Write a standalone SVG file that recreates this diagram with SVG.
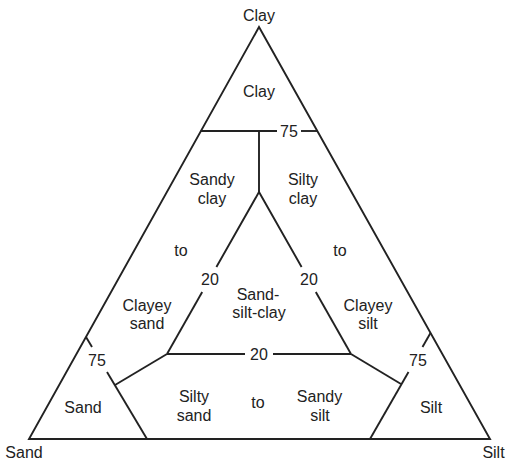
<svg xmlns="http://www.w3.org/2000/svg" width="518" height="463" viewBox="0 0 518 463">
<style>
.ln{stroke:#222;stroke-width:1.9;fill:none;stroke-linecap:butt;stroke-linejoin:miter}
text{font-family:"Liberation Sans",Arial,sans-serif;font-size:16px;fill:#222;text-anchor:middle}
</style>
<rect width="518" height="463" fill="#fff"/>
<g id="connectors">
<polygon class="ln" points="259,27 29,439 490,439"/>
<line class="ln" x1="200.7" y1="131" x2="277" y2="131"/>
<line class="ln" x1="301" y1="131" x2="317.3" y2="131"/>
<line class="ln" x1="259" y1="131" x2="259" y2="192"/>
<polyline class="ln" points="216.4,267 259,192 301.6,267"/>
<line class="ln" x1="202.2" y1="292" x2="167" y2="354"/>
<line class="ln" x1="315.8" y1="292" x2="351" y2="354"/>
<line class="ln" x1="167" y1="354" x2="245" y2="354"/>
<line class="ln" x1="273" y1="354" x2="351" y2="354"/>
<line class="ln" x1="86" y1="337" x2="92" y2="347"/>
<line class="ln" x1="107" y1="372" x2="147" y2="439"/>
<line class="ln" x1="167" y1="354" x2="115" y2="385"/>
<line class="ln" x1="430.5" y1="333" x2="422.5" y2="347"/>
<line class="ln" x1="408.5" y1="372" x2="370" y2="439"/>
<line class="ln" x1="351" y1="354" x2="401" y2="384"/>
</g>
<g id="vertex-clay"><text x="259" y="21">Clay</text></g>
<g id="vertex-sand"><text x="24" y="458">Sand</text></g>
<g id="vertex-silt"><text x="493.5" y="458">Silt</text></g>
<g id="region-clay"><text x="259" y="97">Clay</text></g>
<g id="label-75-top"><text x="289" y="137">75</text></g>
<g id="region-sandy-clay"><text x="212" y="185">Sandy</text><text x="212" y="204">clay</text></g>
<g id="region-silty-clay"><text x="303" y="185">Silty</text><text x="303" y="204">clay</text></g>
<g id="label-to-left"><text x="181" y="256">to</text></g>
<g id="label-to-right"><text x="340" y="256">to</text></g>
<g id="label-20-left"><text x="210" y="285">20</text></g>
<g id="label-20-right"><text x="309" y="285">20</text></g>
<g id="region-sand-silt-clay"><text x="258" y="300">Sand-</text><text x="259" y="318">silt-clay</text></g>
<g id="region-clayey-sand"><text x="147" y="311">Clayey</text><text x="147" y="329">sand</text></g>
<g id="region-clayey-silt"><text x="368" y="311">Clayey</text><text x="368" y="329">silt</text></g>
<g id="label-20-bottom"><text x="259" y="360">20</text></g>
<g id="label-75-left"><text x="97" y="366">75</text></g>
<g id="label-75-right"><text x="418" y="366">75</text></g>
<g id="region-silty-sand"><text x="194" y="402">Silty</text><text x="194" y="421">sand</text></g>
<g id="label-to-bottom"><text x="258" y="408">to</text></g>
<g id="region-sandy-silt"><text x="319.5" y="402">Sandy</text><text x="320" y="421">silt</text></g>
<g id="region-sand"><text x="83" y="413">Sand</text></g>
<g id="region-silt"><text x="431" y="413">Silt</text></g>
</svg>
